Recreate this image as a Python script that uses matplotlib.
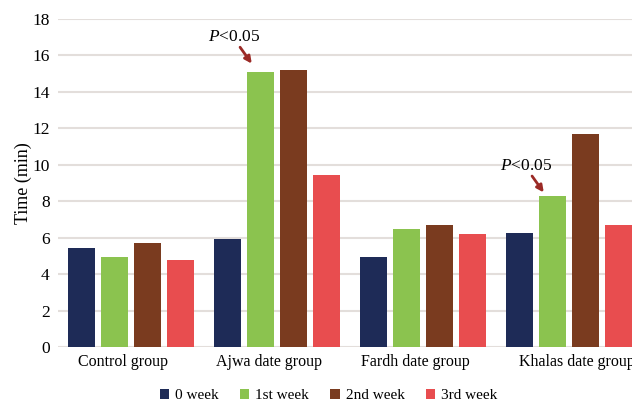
import matplotlib
matplotlib.use("Agg")
import matplotlib.pyplot as plt
import numpy as np

# data
groups = ["Control group", "Ajwa date group", "Fardh date group", "Khalas date group"]
series = ["0 week", "1st week", "2nd week", "3rd week"]
week0 = [5.45, 5.95, 4.95, 6.25]
week1 = [4.95, 15.1, 6.45, 8.3]
week2 = [5.7, 15.2, 6.7, 11.7]
week3 = [4.75, 9.45, 6.2, 6.7]
colors = ["#1e2b57", "#8bc34f", "#7a3b1f", "#e84d4f"]

# (group, series) of bars marked P<0.05
marked = [(1, 1), (3, 1)]

plt.rcParams["font.family"] = ["Liberation Serif", "DejaVu Serif"]
plt.rcParams["mathtext.fontset"] = "custom"
plt.rcParams["mathtext.rm"] = "Liberation Serif"
plt.rcParams["mathtext.it"] = "Liberation Serif:italic"

fig = plt.figure(figsize=(6.32, 4.01), dpi=100)
ax = fig.add_axes([0.0918, 0.1347, 0.924, 0.818])

x = np.arange(len(groups))
step = 0.226
width = 0.185
values = [week0, week1, week2, week3]
for i, vals in enumerate(values):
    ax.bar(x + (i - 1.5) * step, vals, width, color=colors[i], label=series[i], zorder=3)

ax.set_xlim(-0.5, 3.5)
ax.set_ylim(0, 18)
ax.set_yticks(range(0, 19, 2))
# labels are not exactly centred under the groups in the original
label_shift = np.array([-0.055, -0.055, -0.055, 0.055])
ax.set_xticks(x + label_shift)
ax.set_xticklabels(groups, fontsize=11.5)
ax.tick_params(axis="y", labelsize=12.5, length=0, pad=6)
ax.tick_params(axis="x", length=0, pad=5)
ax.grid(axis="y", color="#e3dedb", linewidth=1.5, zorder=0)
for s in ax.spines.values():
    s.set_visible(False)
ax.set_ylabel("Time (min)", fontsize=13, labelpad=0)

# significance markers
for k, (gi, si) in enumerate(marked):
    xb = x[gi] + (si - 1.5) * step
    yb = values[si][gi]
    lift = 0.45 if k == 0 else 0.18
    ax.annotate("", xy=(xb - 0.06, yb + lift), xytext=(xb - 0.14, yb + lift + 0.9),
                arrowprops=dict(arrowstyle="-|>", color="#9b2a26", lw=2,
                                mutation_scale=10, shrinkA=0, shrinkB=0))
    ax.text(xb - 0.18, yb + lift + 1.25, r"$P$<0.05", ha="center", va="baseline",
            fontsize=12.5)

fig.legend(loc="lower center", ncol=4, frameon=False, fontsize=11,
           bbox_to_anchor=(0.52, -0.038), handlelength=0.6, handleheight=0.6,
           handletextpad=0.4, columnspacing=1.4)

fig.savefig("out.png", dpi=100)
